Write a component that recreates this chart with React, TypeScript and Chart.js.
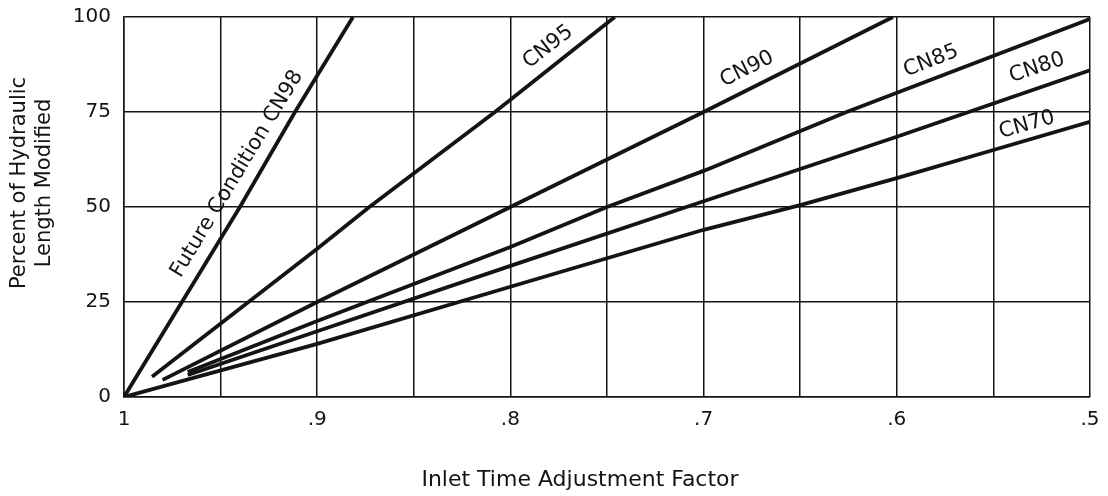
import React, { useEffect, useRef } from 'react';
import { Chart, registerables } from 'chart.js';

Chart.register(...registerables);

// Axis ticks
const xGridValues = [1, 0.95, 0.9, 0.85, 0.8, 0.75, 0.7, 0.65, 0.6, 0.55, 0.5];
const xTickLabels = ['1', '', '.9', '', '.8', '', '.7', '', '.6', '', '.5'];
const yTickValues = [0, 25, 50, 75, 100];
const yTickLabels = ['0', '25', '50', '75', '100'];

// Series (inlet time adjustment factor vs percent of hydraulic length modified)
const cn98X = [1, 0.94, 0.9115, 0.8815];
const cn98Y = [0, 50, 75, 100];
const cn95X = [0.9855, 0.9, 0.873, 0.808, 0.746];
const cn95Y = [5.3, 39, 50, 75, 100];
const cn90X = [0.98, 0.9, 0.8, 0.7, 0.602];
const cn90Y = [4.5, 25, 50, 75, 100];
const cn85X = [0.967, 0.9, 0.8, 0.75, 0.7, 0.626, 0.5];
const cn85Y = [6.6, 20, 39.5, 50, 59.5, 75, 99.5];
const cn80X = [0.967, 0.9, 0.8, 0.7, 0.6, 0.5];
const cn80Y = [5.8, 17.3, 34.5, 51.5, 68.5, 86];
const cn70X = [1, 0.9, 0.8, 0.7, 0.65, 0.6, 0.55, 0.5];
const cn70Y = [0, 14, 29, 44, 50.5, 57.6, 65, 72.4];

const seriesNames = ['Future Condition CN98', 'CN95', 'CN90', 'CN85', 'CN80', 'CN70'];
const seriesX = [cn98X, cn95X, cn90X, cn85X, cn80X, cn70X];
const seriesY = [cn98Y, cn95Y, cn90Y, cn85Y, cn80Y, cn70Y];

// Label anchor (data coordinates, label centre)
const labelX = [0.9415, 0.7805, 0.6775, 0.5823, 0.5274, 0.5326];
const labelY = [58.7, 92.1, 86.3, 88.4, 86.6, 71.6];

const xTitle = 'Inlet Time Adjustment Factor';
const yTitleLines = ['Percent of Hydraulic', 'Length Modified'];

const FONT = '"DejaVu Sans", "Liberation Sans", sans-serif';
const INK = '#141414';

const annotatePlugin = {
  id: 'annotate',
  afterDatasetsDraw(chart: any) {
    const { ctx, scales } = chart;
    const xs = scales.x;
    const ys = scales.y;
    ctx.save();
    ctx.fillStyle = INK;
    ctx.font = `21px ${FONT}`;
    ctx.textAlign = 'center';
    ctx.textBaseline = 'middle';
    seriesNames.forEach((name, i) => {
      const xa = seriesX[i];
      const ya = seriesY[i];
      const p1x = xs.getPixelForValue(xa[0]);
      const p1y = ys.getPixelForValue(ya[0]);
      const p2x = xs.getPixelForValue(xa[xa.length - 1]);
      const p2y = ys.getPixelForValue(ya[ya.length - 1]);
      const ang = Math.atan2(p2y - p1y, p2x - p1x);
      const cx = xs.getPixelForValue(labelX[i]);
      const cy = ys.getPixelForValue(labelY[i]);
      ctx.save();
      ctx.translate(cx, cy);
      ctx.rotate(ang);
      ctx.fillText(name, 0, 0);
      ctx.restore();
    });
    ctx.restore();
  },
  afterDraw(chart: any) {
    const { ctx } = chart;
    ctx.save();
    ctx.fillStyle = INK;
    ctx.textAlign = 'center';
    ctx.textBaseline = 'middle';
    ctx.font = `22px ${FONT}`;
    ctx.fillText(xTitle, 580, 480);
    ctx.font = `21px ${FONT}`;
    const cols = [20, 45];
    yTitleLines.forEach((t, i) => {
      ctx.save();
      ctx.translate(cols[i], 183);
      ctx.rotate(-Math.PI / 2);
      ctx.fillText(t, 0, 0);
      ctx.restore();
    });
    ctx.restore();
  },
};

export default function App() {
  const ref = useRef<HTMLCanvasElement | null>(null);

  useEffect(() => {
    document.body.style.margin = '0';
    const canvas = ref.current;
    if (!canvas) return;
    const datasets = seriesNames.map((name, i) => ({
      label: name,
      data: seriesX[i].map((x, j) => ({ x, y: seriesY[i][j] })),
      borderColor: INK,
      backgroundColor: INK,
      borderWidth: 3.8,
      pointRadius: 0,
      pointHoverRadius: 0,
      tension: 0,
      fill: false,
    }));
    const chart = new Chart(canvas, {
      type: 'line',
      data: { datasets },
      plugins: [annotatePlugin],
      options: {
        animation: false,
        responsive: false,
        events: [],
        layout: { padding: { top: 17, right: 18, left: 0, bottom: 0 } },
        plugins: {
          legend: { display: false },
          tooltip: { enabled: false },
          title: { display: false },
        },
        scales: {
          x: {
            type: 'linear',
            reverse: true,
            min: 0.5,
            max: 1,
            afterBuildTicks: (s: any) => {
              s.ticks = xGridValues.map((v) => ({ value: v }));
            },
            afterFit: (s: any) => {
              s.height = 99;
              s.paddingLeft = 0;
              s.paddingRight = 0;
            },
            ticks: {
              autoSkip: false,
              maxRotation: 0,
              padding: 11,
              color: INK,
              font: { family: FONT, size: 20 },
              callback: (_v: any, i: number) => xTickLabels[i],
            },
            grid: { color: INK, lineWidth: 1.5, drawTicks: false },
            border: { display: true, color: INK, width: 1.5 },
          },
          y: {
            type: 'linear',
            min: 0,
            max: 100,
            afterBuildTicks: (s: any) => {
              s.ticks = yTickValues.map((v) => ({ value: v }));
            },
            afterFit: (s: any) => {
              s.width = 124;
              s.paddingTop = 0;
              s.paddingBottom = 0;
            },
            ticks: {
              padding: 13,
              color: INK,
              font: { family: FONT, size: 20 },
              callback: (_v: any, i: number) => yTickLabels[i],
            },
            grid: { color: INK, lineWidth: 1.5, drawTicks: false },
            border: { display: true, color: INK, width: 1.5 },
          },
        },
      },
    });
    return () => chart.destroy();
  }, []);

  return (
    <div style={{ width: 1108, height: 496, background: '#fff' }}>
      <canvas ref={ref} width={1108} height={496} />
    </div>
  );
}
